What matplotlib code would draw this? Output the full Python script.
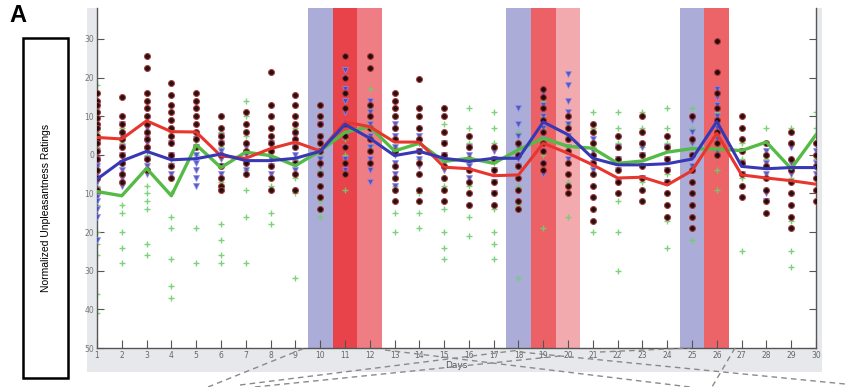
import matplotlib
matplotlib.use("Agg")
import matplotlib.pyplot as plt
from matplotlib.patches import Rectangle
from matplotlib.lines import Line2D

days = list(range(1, 31))
ytick_vals = [30, 20, 10, 0, -10, -20, -30, -40, -50]
ytick_labels = ["30", "20", "10", "0", "10", "20", "30", "40", "50"]

red_mean = [4.5, 4.1, 8.8, 6.0, 5.9, -0.3, -0.9, 1.6, 3.3, 1.0, 8.5, 7.3, 3.3, 3.3, -3.2,
            -3.6, -5.4, -5.2, 3.0, 0.4, -2.6, -6.0, -5.8, -7.8, -4.1, 5.6, -5.2, -6.0, -6.7, -7.6]
blue_mean = [-6.3, -1.6, 0.9, -1.3, -1.0, 0.2, -1.5, -1.5, -0.9, 0.9, 7.9, 4.3, -0.2, 0.9, -0.9,
             -1.7, -0.9, -0.9, 8.5, 5.2, -0.9, -2.6, -2.6, -2.3, -1.1, 8.6, -3.0, -3.6, -3.3, -3.3]
green_mean = [-9.5, -10.6, -3.5, -10.6, 2.6, -3.3, 0.7, -0.2, -2.8, 1.0, 5.8, 7.3, 1.0, 3.0, -1.7,
              -0.9, -2.2, 1.3, 4.3, 2.2, 1.7, -2.2, -1.6, 0.7, 1.6, 1.5, 1.1, 3.3, -3.6, 5.2]

red_pts = [
    [16, 14, 13, 11, 9.5, 8, 7, 5, 4, 3, 1, -1, -4, -6, -9],
    [15, 10, 8, 6, 4, 2, 0, -2, -5, -7],
    [25.5, 22.5, 16, 14, 12, 10, 8, 6, 4, 2, -1, -4],
    [18.5, 15.5, 13, 11, 9, 7, 5, 3, 0, -3, -6],
    [16, 14, 12, 10, 8, 6, 4, 2],
    [10, 7, 5, 3, 0, -3, -6, -8, -9],
    [11, 8, 6, 3, 1, -2, -5],
    [21.5, 13, 10, 7, 5, 3, 1, -3, -6, -9],
    [15.5, 13, 10, 8, 6, 4, 2, -2, -5, -9],
    [13, 10, 8, 5, 3, 1, -2, -5, -8, -11, -14],
    [25.5, 20, 16, 12, 8, 5, 2, -2, -5],
    [25.5, 22.5, 13, 10, 7, 4, 1, -2],
    [16, 14, 12, 10, 7, 4, 1, -3, -6, -9, -12],
    [19.5, 12, 10, 7, 4, 1, -2, -5, -9, -12],
    [12, 10, 6, 3, 0, -3, -6, -9, -12],
    [5, 2, -1, -4, -7, -10, -13],
    [2, -1, -4, -7, -10, -13],
    [3, 0, -3, -6, -9, -12, -14],
    [17, 15, 12, 9, 6, 3, 1, -2, -4],
    [10, 7, 4, 1, -2, -5, -8, -10],
    [8, 6, 3, 0, -2, -5, -8, -11, -14, -17],
    [5, 2, -1, -4, -7, -10],
    [10, 6, 3, 0, -3, -6, -9, -12],
    [5, 2, -1, -4, -7, -10, -13, -16],
    [10, 4, 0, -4, -7, -10, -13, -16, -19],
    [29.5, 21.5, 16, 12, 9, 6, 3, 0],
    [10, 7, 4, 1, -2, -5, -8, -11],
    [3, 0, -3, -6, -9, -12, -15],
    [6, 3, -1, -4, -7, -10, -13, -16, -19],
    [3, 0, -3, -6, -9, -12],
]
blue_pts = [
    [3, 1, -1, -2, -3, -5, -7, -9, -11, -12, -14, -16, -22],
    [8, 5, 2, 0, -2, -4, -6, -8],
    [7, 5, 3, 1, -1, -3, -5],
    [3, 0, -1, -3, -5],
    [4, 2, 0, -2, -4, -6, -8],
    [5, 3, 1, -1, -3, -5],
    [2, 0, -2, -4],
    [3, 1, -1, -3, -5],
    [5, 2, 0, -2, -4],
    [8, 5, 3, 1, -1, -3, -5],
    [22, 20, 17, 14, 11, 8, 5, 2, -1, -4],
    [14, 11, 8, 5, 2, -1, -4, -7],
    [8, 5, 2, 0, -2, -5, -8],
    [5, 3, 1, -1, -3],
    [3, 0, -2, -4],
    [2, 0, -3, -6],
    [1, -1, -4, -7, -10],
    [12, 8, 5, 2, -1, -3],
    [16, 13, 10, 7, 4, 1, -2, -5],
    [21, 18, 14, 11, 8, 5, 2, -1],
    [4, 1, -2, -4],
    [2, -1, -4, -7],
    [2, 0, -3, -6],
    [2, -1, -4, -7],
    [9, 6, 3, 0, -3],
    [17, 15, 13, 10, 7, 4, 1],
    [1, -2, -5],
    [1, -2, -5, -10, -12],
    [2, -2, -5],
    [1, -2, -5],
]
green_pts = [
    [18, 12, 6, 2, -3, -8, -13, -20, -23, -26, -36, -41],
    [7, 3, -13, -15, -20, -24, -28],
    [5, 0, -4, -8, -10, -12, -14, -23, -26],
    [6, -2, -10, -16, -19, -27, -34, -37],
    [5, 0, -19, -28],
    [6, 2, -3, -7, -18, -22, -26, -28],
    [14, 10, 5, 1, -4, -9, -16, -28],
    [13, 7, 3, -3, -8, -15, -18],
    [7, 3, -1, -6, -10, -32],
    [10, 5, 0, -4, -8, -12, -16],
    [16, 12, 8, 4, 0, -5, -9],
    [17, 12, 8, 5, 2],
    [12, 7, 2, -3, -8, -15, -20],
    [10, 7, 4, -1, -10, -15, -19],
    [12, 8, 3, -3, -8, -14, -20, -24, -27],
    [12, 7, 3, -2, -8, -16, -21],
    [11, 7, 3, -2, -7, -14, -20, -23, -27],
    [6, 2, -3, -8, -13, -32],
    [14, 10, 7, 4, 0, -4, -19],
    [8, 5, 2, -2, -7, -16],
    [11, 7, 2, -3, -8, -14, -20],
    [11, 7, 3, -2, -7, -12, -20, -30],
    [11, 7, 2, -3, -7],
    [12, 7, 3, -5, -10, -17, -24],
    [12, 7, 3, -3, -13, -22],
    [11, 5, 0, -4, -9],
    [7, 3, -1, -6, -25],
    [7, 3, -1, -6, -12],
    [7, 3, -1, -6, -17, -25, -29],
    [11, 7, 3, -1, -6],
]

bands = [(10, "#abadd8"), (11, "#e8434b"), (12, "#ee7e84"),
         (18, "#abadd8"), (19, "#ec6166"), (20, "#f3aaae"),
         (25, "#abadd8"), (26, "#ec6468")]

W, H = 850, 387
fig = plt.figure(figsize=(8.5, 3.87), dpi=100)

def fx(px):
    return px / W

def fy(py):
    return 1 - py / H

# gray frame behind the axes
fig.patches.append(Rectangle((fx(87), fy(372)), fx(822) - fx(87), fy(8) - fy(372),
                             transform=fig.transFigure, facecolor="#e6e8eb",
                             edgecolor="none", zorder=0))

ax = fig.add_axes([fx(97), fy(348), fx(816) - fx(97), fy(8) - fy(348)])
ax.set_facecolor("white")
ax.set_zorder(1)

for d, c in bands:
    ax.axvspan(d - 0.5, d + 0.5, color=c, lw=0, zorder=0)

for i, d in enumerate(days):
    g = green_pts[i]
    ax.scatter([d] * len(g), g, marker="+", s=22, c="#6fcf6f", linewidths=1.0,
               zorder=2, alpha=0.9)
    b = blue_pts[i]
    ax.scatter([d] * len(b), b, marker="v", s=18, c="#4a4ac4",
               edgecolors="#8c8ce8", linewidths=0.6, zorder=3, alpha=0.9)
    r = red_pts[i]
    ax.scatter([d] * len(r), r, marker="o", s=18, c="#1a0505",
               edgecolors="#a83a3a", linewidths=0.8, zorder=4, alpha=0.95)

ax.plot(days, green_mean, color="#55bb46", lw=2.4, zorder=5)
ax.plot(days, red_mean, color="#e8362e", lw=2.2, zorder=6)
ax.plot(days, blue_mean, color="#3838b4", lw=2.2, zorder=7)

ax.set_xlim(1, 30)
ax.set_ylim(-50, 38)
ax.set_xticks(days)
ax.set_xticklabels([str(d) for d in days], fontsize=5.5, color="#666666")
ax.set_yticks(ytick_vals)
ax.set_yticklabels(ytick_labels, fontsize=5.5, color="#777777")
ax.tick_params(axis="x", direction="in", length=6, width=0.8, color="#555555",
               pad=2, top=False)
ax.tick_params(axis="y", direction="in", length=5, width=0.8, color="#555555",
               pad=2, right=True)
for s in ["left", "bottom", "right"]:
    ax.spines[s].set_color("#555555")
    ax.spines[s].set_linewidth(1.0)
ax.spines["top"].set_visible(False)
ax.set_xlabel("Days", fontsize=6.5, color="#555555", labelpad=1)

# left label box
fig.patches.append(Rectangle((fx(23), fy(378)), fx(68) - fx(23), fy(38) - fy(378),
                             transform=fig.transFigure, facecolor="white",
                             edgecolor="black", lw=1.8, zorder=1))
fig.text(fx(46), fy(208), "Normalized Unpleasantness Ratings", rotation=90,
         ha="center", va="center", fontsize=7.5, family="Liberation Sans")
fig.text(fx(18), fy(15), "A", ha="center", va="center", fontsize=17,
         fontweight="bold", family="Liberation Sans")

# dashed connector lines
dashes = [
    ((208, 387), (305, 348)),
    ((240, 385), (520, 350)),
    ((255, 387), (560, 356)),
    ((385, 350), (690, 387)),
    ((520, 352), (845, 384)),
    ((600, 352), (690, 348)),
    ((735, 348), (712, 387)),
]
for (x0, y0), (x1, y1) in dashes:
    fig.add_artist(Line2D([fx(x0), fx(x1)], [fy(y0), fy(y1)], transform=fig.transFigure,
                          color="#8a8a8a", lw=1.0, linestyle=(0, (4, 3)), zorder=5))

fig.savefig("out.png", dpi=100)
